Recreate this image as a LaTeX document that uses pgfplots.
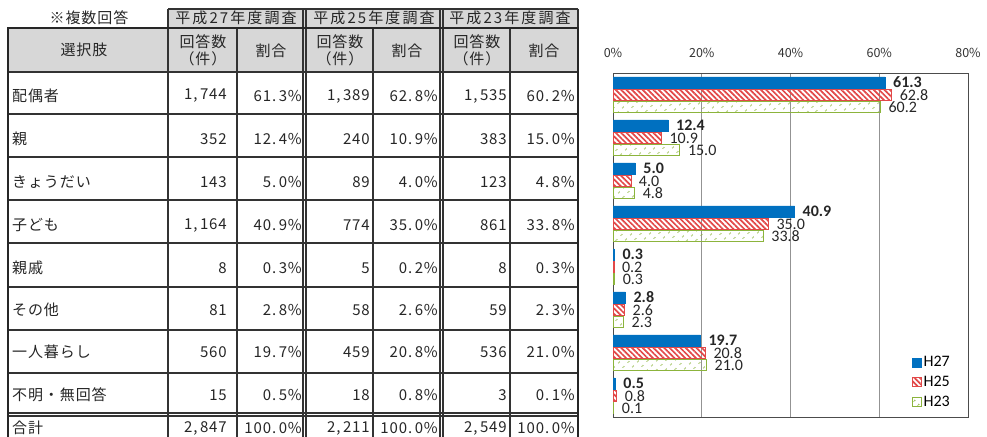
\documentclass[border=0pt]{standalone}
\usepackage{fontspec}
\setmainfont{Carlito}
\newfontfamily\jp[LetterSpace=6]{Noto Sans CJK JP}
\newfontfamily\jpw[LetterSpace=14]{Noto Sans CJK JP}
\newfontfamily\jpt{Noto Sans CJK JP}
\usepackage{pgfplots}
\pgfplotsset{compat=1.18}
\usetikzlibrary{patterns.meta}
\definecolor{hblue}{RGB}{0,112,192}
\definecolor{hred}{RGB}{226,72,72}
\definecolor{hgreen}{RGB}{140,180,60}
\definecolor{hdr}{RGB}{215,215,215}
\newcommand\rw[8]{%
 \node[anchor=west] at (12,#1) {#2};
 \node[anchor=east] at (227,#1) {#3};
 \node[anchor=east] at (302,#1) {#4};
 \node[anchor=east] at (370,#1) {#5};
 \node[anchor=east] at (438,#1) {#6};
 \node[anchor=east] at (507,#1) {#7};
 \node[anchor=east] at (575,#1) {#8};
}
\begin{document}
\begin{tikzpicture}
\useasboundingbox (0pt,0pt) rectangle (987pt,-436pt);
\begin{scope}
\clip (0pt,0pt) rectangle (987pt,-436pt);
\begin{scope}[x=1pt,y=-1pt, every node/.style={inner sep=0pt, font=\jp\fontsize{15}{15}\selectfont, text=black!85}]
 \fill[hdr] (168,9) rectangle (578,28);
 \fill[hdr] (8,28) rectangle (578,72);
 \draw[line width=1.2pt, black!80] (168,9) -- (578,9);
 \draw[line width=1.2pt, black!80] (168,9) -- (168,28);
 \draw[line width=1.2pt, black!80] (578,9) -- (578,28);
 \foreach \y in {72,114,157,200,243,287,330,373,413,416}
   \draw[line width=1.1pt, black!80] (8,\y) -- (578,\y);
 \foreach \x in {168,237,373,510}
   \draw[line width=1.1pt, black!80] (\x,28) -- (\x,470);
 \foreach \x in {303,306,440,443}
   \draw[line width=1.1pt, black!80] (\x,9) -- (\x,470);
 \draw[line width=1.8pt, black!85] (8,28) rectangle (578,470);
 \node at (89,18) {※複数回答};
 \node[font=\jpw\fontsize{15}{15}\selectfont] at (236,18) {平成27年度調査};
 \node[font=\jpw\fontsize{15}{15}\selectfont] at (374,18) {平成25年度調査};
 \node[font=\jpw\fontsize{15}{15}\selectfont] at (510,18) {平成23年度調査};
 \node at (84,50) {選択肢};
 \foreach \cx/\px in {203/271, 340/407, 477/544}{
   \node at (\cx,42) {回答数};
   \node at (\cx,59) {（件）};
   \node at (\px,51) {割合};
 }
 \rw{96}{配偶者}{1,\,744}{61.\,3\%}{1,\,389}{62.\,8\%}{1,\,535}{60.\,2\%}
 \rw{139}{親}{352}{12.\,4\%}{240}{10.\,9\%}{383}{15.\,0\%}
 \rw{182}{きょうだい}{143}{5.\,0\%}{89}{4.\,0\%}{123}{4.\,8\%}
 \rw{225}{子ども}{1,\,164}{40.\,9\%}{774}{35.\,0\%}{861}{33.\,8\%}
 \rw{268}{親戚}{8}{0.\,3\%}{5}{0.\,2\%}{8}{0.\,3\%}
 \rw{310}{その他}{81}{2.\,8\%}{58}{2.\,6\%}{59}{2.\,3\%}
 \rw{352}{一人暮らし}{560}{19.\,7\%}{459}{20.\,8\%}{536}{21.\,0\%}
 \rw{395}{不明・無回答}{15}{0.\,5\%}{18}{0.\,8\%}{3}{0.\,1\%}
 \rw{428}{合計}{2,\,847}{100.\,0\%}{2,\,211}{100.\,0\%}{2,\,549}{100.\,0\%}
\end{scope}
\end{scope}
\begin{axis}[
 at={(613pt,-417pt)}, anchor=south west,
 scale only axis, width=355pt, height=344pt,
 xmin=0, xmax=80, ymin=0.5, ymax=8.5, y dir=reverse,
 xbar, bar width=11pt, bar shift=0pt,
 /pgf/number format/assume math mode=true,
 xtick={0,20,40,60,80},
 xticklabel={\pgfmathprintnumber{\tick}\%},
 xticklabel pos=upper,
 xticklabel shift=12pt,
 xticklabel style={font=\jpt\fontsize{12.5}{12.5}\selectfont, text=black!80},
 ytick=\empty,
 xmajorgrids, grid style={draw=gray!85, line width=0.8pt},
 major tick length=0pt,
 axis line style={draw=gray!60!black, line width=0.9pt},
 nodes near coords={\pgfmathprintnumber[fixed,fixed zerofill,precision=1]{\pgfplotspointmeta}},
 point meta=x,
 every node near coord/.append style={anchor=west, inner sep=0pt, xshift=8pt, font=\fontsize{16}{16}\selectfont, text=black!85},
 legend style={at={(0.955,0.02)}, anchor=south east, draw=none, fill=none, font=\fontsize{16}{16}\selectfont, row sep=4pt, inner sep=0pt},
 legend cell align=left,
 legend image code/.code={\draw[#1] (0pt,-4.5pt) rectangle (9pt,4.5pt);},
 clip=false,
]
\addplot[fill=hblue, draw=hblue, every node near coord/.append style={font=\bfseries\fontsize{16}{16}\selectfont}]
 coordinates {(61.3,0.72) (12.4,1.72) (5.0,2.72) (40.9,3.72) (0.3,4.72) (2.8,5.72) (19.7,6.72) (0.5,7.72)};
\addplot[draw=hred, pattern={Lines[angle=-45,distance=3.8pt,line width=1.7pt]}, pattern color=hred, every node near coord/.append style={yshift=-0.5pt}]
 coordinates {(62.8,1) (10.9,2) (4.0,3) (35.0,4) (0.2,5) (2.6,6) (20.8,7) (0.8,8)};
\addplot[draw=hgreen, line width=0.9pt, pattern={Dots[distance=6.4pt,angle=45,radius=1pt]}, pattern color=hgreen, every node near coord/.append style={yshift=-1pt}]
 coordinates {(60.2,1.28) (15.0,2.28) (4.8,3.28) (33.8,4.28) (0.3,5.28) (2.3,6.28) (21.0,7.28) (0.1,8.28)};
\legend{H27,H25,H23}
\end{axis}
\end{tikzpicture}
\end{document}
